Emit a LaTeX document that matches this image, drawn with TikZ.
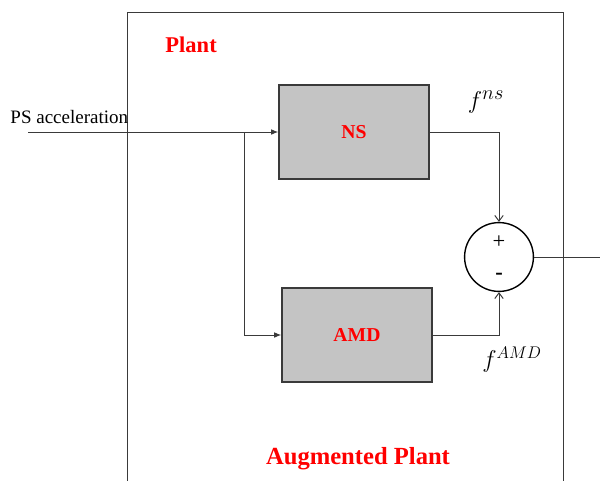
\documentclass[tikz,border=0pt]{standalone}
\usepackage{fontspec}
\setmainfont{Liberation Serif}
\usetikzlibrary{arrows.meta}

\definecolor{boxgray}{HTML}{C4C4C4}
\definecolor{linegray}{HTML}{3A3A3A}

\begin{document}
\begin{tikzpicture}[x=0.025cm,y=-0.025cm,line width=.7pt,
  blockbox/.style={draw=linegray,fill=boxgray,minimum width=3.75cm,minimum height=2.35cm,inner sep=0pt,
    line width=1pt,text=red,font=\fontsize{14}{16}\selectfont\bfseries},
  sumnode/.style={draw=black,circle,minimum size=1.72cm,inner sep=0pt,line width=1pt},
  feedarrow/.style={draw=linegray,-{Latex[length=5pt,width=4pt]}},
  sumarrow/.style={draw=linegray,-{Straight Barb[length=4pt,width=6pt]}},
  redlabel/.style={text=red,font=\fontsize{16}{18}\selectfont\bfseries,inner sep=0pt}]
\useasboundingbox (0,0) rectangle (600,481);
\draw[linegray] (127,481) -- (127,12) -- (563,12) -- (563,481);
\node[redlabel,anchor=west] (plantlbl) at (165,45) {Plant};
\node[redlabel,font=\fontsize{17.5}{20}\selectfont\bfseries,anchor=base] (auglbl) at (358,464) {Augmented Plant};
\node[anchor=base west,inner sep=0pt,font=\fontsize{13.5}{15}\selectfont] (inlbl) at (10,123) {PS acceleration};
\node[blockbox] (ns) at (354,132) {NS};
\node[blockbox] (amd) at (357,335) {AMD};
\node[sumnode] (sum) at (499,257) {};
\node[inner sep=0pt,font=\fontsize{16}{18}\selectfont] (plus) at (499,242) {+};
\node[inner sep=0pt,font=\fontsize{16}{18}\selectfont\bfseries] (minus) at (499,276) {-};
\node[inner sep=0pt,font=\fontsize{19}{21}\selectfont] (fns) at (486,102) {$f^{ns}$};
\node[inner sep=0pt,font=\fontsize{18}{20}\selectfont] (famd) at (512,360) {$f^{AMD}$};
\coordinate (in) at (28,132);
\coordinate (br) at (244,132);
\coordinate (out) at (600,257);
% signal path
\draw[feedarrow] (in) -- (ns.west);
\draw[feedarrow] (br) |- (amd.west);
\draw[sumarrow] (ns.east) -| (sum.north);
\draw[sumarrow] (amd.east) -| (sum.south);
\draw[linegray] (sum.east) -- (out);
\end{tikzpicture}
\end{document}
